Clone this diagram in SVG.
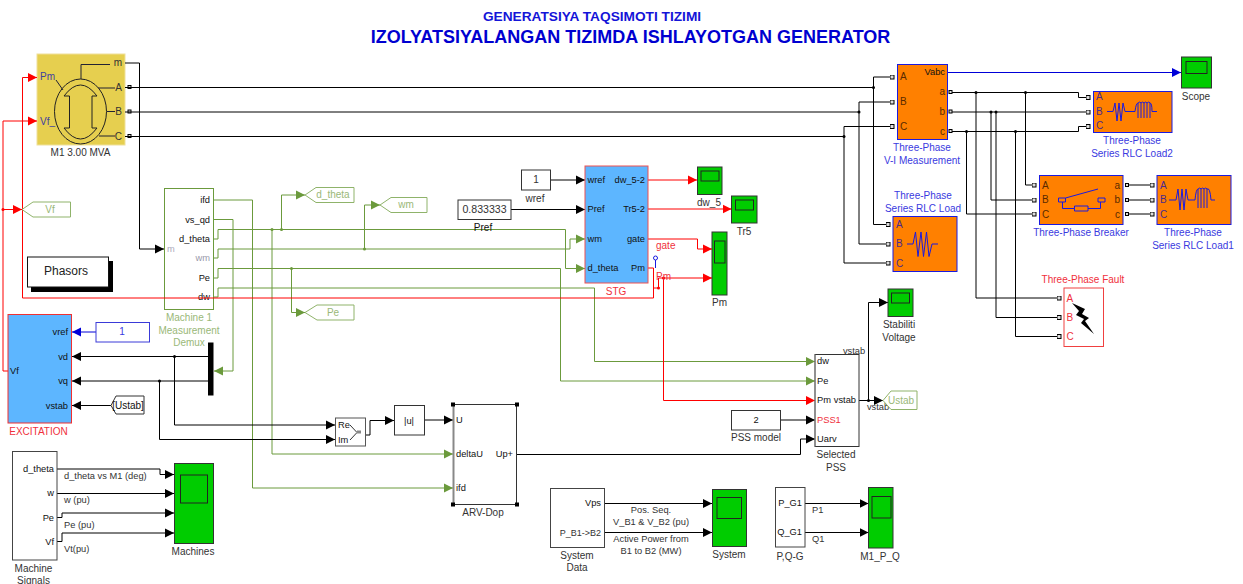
<svg xmlns="http://www.w3.org/2000/svg" width="1243" height="584" viewBox="0 0 1243 584">
<style>
text{font-family:"Liberation Sans",Arial,sans-serif;font-size:10px;fill:#333;}
.m{text-anchor:middle}.e{text-anchor:end}
.k{fill:#111;font-size:9.3px}.l{font-size:9.3px}.b{fill:#3a3ae0}.r{fill:#f0303c}.g{fill:#9ab878}
.w{fill:none;stroke-width:1}
.wk{stroke:#000;marker-end:url(#ak)}
.wg{stroke:#6b9a3c;marker-end:url(#ag)}
.wr{stroke:#f00;marker-end:url(#ar)}
.wb{stroke:#0000d8;marker-end:url(#ab)}
.wt{stroke:#000;marker-end:url(#t)}
.sc{fill:#00cc00;stroke:#333;stroke-width:1}
.in{fill:none;stroke:#222;stroke-width:1}
.or{fill:#ff8000;stroke:#1a1ae0;stroke-width:1}
.sy{fill:none;stroke:#1a1ae0;stroke-width:1}
.tg{fill:#fff;stroke:#8fb36a;stroke-width:1}
.dk{fill:#000}.dg{fill:#6b9a3c}.dr{fill:#f00}
.tm{fill:#ddd;stroke:#000}
</style>
<defs>
<marker id="ak" markerUnits="userSpaceOnUse" markerWidth="10" markerHeight="10" refX="9" refY="5" orient="auto"><path d="M0 .5L9 5L0 9.500Z" fill="#000"/></marker>
<marker id="ag" markerUnits="userSpaceOnUse" markerWidth="10" markerHeight="10" refX="9" refY="5" orient="auto"><path d="M0 .5L9 5L0 9.500Z" fill="#6b9a3c"/></marker>
<marker id="ar" markerUnits="userSpaceOnUse" markerWidth="10" markerHeight="10" refX="9" refY="5" orient="auto"><path d="M0 .5L9 5L0 9.500Z" fill="#f00"/></marker>
<marker id="ab" markerUnits="userSpaceOnUse" markerWidth="10" markerHeight="10" refX="9" refY="5" orient="auto"><path d="M0 .5L9 5L0 9.500Z" fill="#0000d8"/></marker>
<marker id="t" markerUnits="userSpaceOnUse" markerWidth="5" markerHeight="5" refX="2.500" refY="2.500"><rect x=".5" y=".5" width="4" height="4" fill="#ddd" stroke="#000"/></marker>
</defs>
<rect width="1243" height="584" fill="#fff"/>
<g id="title">
<text class="m" x="592" y="20.500" style="font-size:13.700px;font-weight:bold;fill:#1414d8">GENERATSIYA TAQSIMOTI TIZIMI</text>
<text class="m" x="630.500" y="43" style="font-size:18px;font-weight:bold;fill:#0000d0">IZOLYATSIYALANGAN TIZIMDA ISHLAYOTGAN GENERATOR</text>
</g>
<g id="M1">
<rect x="37" y="54" width="88" height="91" fill="#e6cf4f" stroke="#efe09a"/>
<ellipse cx="80.500" cy="111.500" rx="26" ry="32.500" fill="none" stroke="#222"/>
<path d="M81 79V64.500H110M56 80L63 90M98 88H115M107 111.500H115M99 136H115" fill="none" stroke="#223"/>
<path d="M64 96Q80.500 74 97 96H92V128H97Q80.500 150 64 128H69.500V96Z" fill="none" stroke="#222"/>
<text x="40" y="80" style="fill:#4040a0">Pm</text><text x="40" y="125" style="fill:#4040a0">Vf_</text>
<text class="e" x="122" y="66">m</text><text class="e" x="122" y="91">A</text><text class="e" x="122" y="115">B</text><text class="e" x="122" y="140">C</text>
<text class="m" x="80.500" y="156">M1 3.00 MVA</text>
<rect class="tm" x="128" y="85.500" width="3" height="3"/><rect class="tm" x="128" y="110" width="3" height="3"/><rect class="tm" x="128" y="134.500" width="3" height="3"/>
</g>
<g id="Demux">
<rect x="164.500" y="188.500" width="49" height="121" fill="none" stroke="#6b9a3c"/>
<text x="167" y="252" class="l" style="fill:#aab">m</text>
<text class="e k" x="210" y="203">ifd</text><text class="e k" x="210" y="223">vs_qd</text><text class="e k" x="210" y="242">d_theta</text><text class="e l" x="210" y="261" style="fill:#99a">wm</text><text class="e k" x="210" y="281">Pe</text><text class="e k" x="210" y="300">dw</text>
<text class="m g" x="189" y="321">Machine 1</text><text class="m g" x="189" y="334">Measurement</text><text class="m g" x="189" y="346">Demux</text>
</g>
<g id="connectors" class="w">
<path class="w wk" d="M125 63H139.500V249H164"/>
<path class="w wt" d="M125 87.500H873.500V77H892"/>
<path class="w wt" d="M873.500 87.500V224.500H888"/>
<path class="w wt" d="M125 112H859V102H892"/>
<path class="w wt" d="M859 112V244H888"/>
<path class="w wt" d="M125 136.500H844V126.500H892"/>
<path class="w wt" d="M844 136.500V263H888"/>
<path class="w wb" d="M947.500 72.500H1181"/>
<path class="w wt" d="M951 92.500H1078.500V97.500H1088"/>
<path class="w wt" d="M951 112H1088"/>
<path class="w wt" d="M951 131.500H1078.500V126.500H1088"/>
<path class="w wt" d="M1025.500 92.500V185H1034"/>
<path class="w wt" d="M991 112V200H1034"/>
<path class="w wt" d="M966.500 131.500V214H1034"/>
<path class="w wt" d="M976 92.500V298H1059"/>
<path class="w wt" d="M996 112V317.500H1059"/>
<path class="w wt" d="M1015.500 131.500V336.500H1059"/>
<path class="w wt" d="M1127 185H1152"/><path class="w wt" d="M1127 200H1152"/><path class="w wt" d="M1127 214H1152"/>
<path class="w wg" d="M213 200H252.500V488H453"/>
<path class="w wg" d="M213 219.500H233V371H214"/>
<path class="w wg" d="M213 239H218V229.500H565.500V268.500H585"/>
<path class="w wg" d="M272 229.500V454H453"/>
<path class="w wg" d="M281.500 229.500V195H305"/>
<path class="w wg" d="M213 258H218V249H570V239H585"/>
<path class="w wg" d="M364.500 249V205H380"/>
<path class="w wg" d="M213 278H218V268.500H560.500V381H815"/>
<path class="w wg" d="M291.500 268.500V312.500H305"/>
<path class="w wg" d="M213 297H218V288H594.500V361.500H815"/>
<path class="w wr" d="M648 268H653.500V298H22.500V77.500H37"/>
<path class="w wr" d="M3 209.500H22"/>
<path class="w wr" d="M8 371H3V121H37"/>
<path class="w wr" d="M653.500 288H658.500V278H712"/>
<path class="w wr" d="M663.500 278V400.500H815"/>
<path class="w wr" d="M648 180H697"/><path class="w wr" d="M648 209H731.500"/>
<path class="w wr" d="M648 239H697.500V249H712"/>
<path class="w wb" d="M149.500 332H72"/>
<path class="w wk" d="M208 356.500H72"/><path class="w wk" d="M208 381H72"/>
<path class="w wk" d="M111 405.500H72"/>
<path class="w wk" d="M174.500 356.500V425H335"/>
<path class="w wk" d="M159.500 381V439.500H335"/>
<path class="w wk" d="M365 435H370V420.500H394"/>
<path class="w wk" d="M424 420H453"/>
<path class="w wk" d="M516.500 454.500H800.500V439H815"/>
<path class="w wk" d="M780.500 420H815"/>
<path class="w wk" d="M859 400.500H883"/>
<path class="w wk" d="M868.500 400.500V302.500H888"/>
<path class="w wk" d="M551 180H585"/><path class="w wk" d="M511 209.500H585"/>
<path class="w wk" d="M57 469H160V474.500H174"/>
<path class="w wk" d="M57 493.500H174"/>
<path class="w wk" d="M57 517.500H62V513H174"/>
<path class="w wk" d="M57 541.500H62V533H174"/>
<path class="w wk" d="M605 503.500H712"/><path class="w wk" d="M605 532.500H712"/>
<path class="w wk" d="M805 503.500H868.500"/><path class="w wk" d="M805 532.500H868.500"/>
<g class="dk"><circle cx="873.500" cy="87.500" r="1.500"/><circle cx="859" cy="112" r="1.500"/><circle cx="844" cy="136.500" r="1.500"/><circle cx="976" cy="92.500" r="1.500"/><circle cx="1025.500" cy="92.500" r="1.500"/><circle cx="991" cy="112" r="1.500"/><circle cx="996" cy="112" r="1.500"/><circle cx="966.500" cy="131.500" r="1.500"/><circle cx="1015.500" cy="131.500" r="1.500"/><circle cx="174.500" cy="356.500" r="1.500"/><circle cx="159.500" cy="381" r="1.500"/><circle cx="868.500" cy="400.500" r="1.500"/></g>
<g class="dg"><circle cx="272" cy="229.500" r="1.500"/><circle cx="281.500" cy="229.500" r="1.500"/><circle cx="364.500" cy="249" r="1.500"/><circle cx="291.500" cy="268.500" r="1.500"/></g>
<g class="dr"><circle cx="3" cy="209.500" r="1.500"/><circle cx="658.500" cy="288" r="1.500"/><circle cx="663.500" cy="278" r="1.500"/></g>
<path d="M655.500 268V260" fill="none" stroke="#1a1ae0"/><circle cx="655.500" cy="258" r="2" fill="#fff" stroke="#1a1ae0"/>
<text class="r" x="656" y="249">gate</text><text class="r" x="656" y="280">Pm</text>
<text class="l" x="64" y="479">d_theta vs M1 (deg)</text><text class="l" x="64" y="503">w (pu)</text><text class="l" x="64" y="528">Pe (pu)</text><text class="l" x="64" y="552">Vt(pu)</text>
<text class="m l" x="651" y="513">Pos. Seq.</text><text class="m l" x="651" y="525">V_B1 &amp; V_B2 (pu)</text><text class="m l" x="651" y="542">Active Power from</text><text class="m l" x="651" y="554">B1 to B2 (MW)</text>
<text class="l" x="812" y="513">P1</text><text class="l" x="812" y="542">Q1</text>
<text class="m l" x="854" y="354">vstab</text><text class="m l" x="878" y="410">vstab</text>
</g>
<g id="gotoVf"><path class="tg" d="M22 209.500L33 202H70.500V217H33Z"/><text class="m g" x="50" y="213">Vf</text></g>
<g id="gotoTheta"><path class="tg" d="M305 195L316 187.500H354V202.500H316Z"/><text class="m g" x="333" y="198">d_theta</text></g>
<g id="gotoWm"><path class="tg" d="M380 205L391 197.500H427V212.500H391Z"/><text class="m g" x="406" y="208">wm</text></g>
<g id="gotoPe"><path class="tg" d="M305 312.500L317 305H354V320H317Z"/><text class="m g" x="333" y="316">Pe</text></g>
<g id="Phasors"><rect x="31" y="261" width="82" height="31" fill="#000"/><rect x="27.500" y="257" width="81" height="30" fill="#fff" stroke="#111"/><text class="m" x="66" y="275" style="font-size:12px;fill:#222">Phasors</text></g>
<g id="Excitation"><rect x="8" y="314.500" width="63.500" height="108.500" fill="#5db6ff" stroke="#f03030"/>
<text x="10" y="374" class="k">Vf</text><text class="e k" x="68" y="335">vref</text><text class="e k" x="68" y="360">vd</text><text class="e k" x="68" y="384">vq</text><text class="e k" x="68" y="409">vstab</text>
<text class="m r" x="38.500" y="435">EXCITATION</text></g>
<g id="ConstVref"><rect x="96" y="322.500" width="53.500" height="19.500" fill="#fff" stroke="#3a3ad8"/><text class="m b" x="122" y="335">1</text></g>
<g id="Mux"><rect x="208" y="342.500" width="5.500" height="53" fill="#000"/></g>
<g id="FromUstab"><path d="M111 405.500L116 396H144V414H116Z" fill="#fff" stroke="#333"/><text class="m" x="128" y="408.500" style="fill:#111">[Ustab]</text></g>
<g id="ReIm"><rect x="335.500" y="418" width="30" height="28" fill="#fff" stroke="#555"/><text x="338" y="428" class="k">Re</text><text x="338" y="443" class="k">Im</text><path d="M350 425L357 432.500L350 440" fill="none" stroke="#333"/><path d="M357 432H361" stroke="#888" stroke-width="3"/></g>
<g id="Abs"><rect x="394.500" y="405.500" width="30" height="29.500" fill="#fff" stroke="#333"/><text class="m k" x="409" y="424">|u|</text></g>
<g id="ARV"><rect x="453.500" y="404.500" width="63" height="100" fill="#fff" stroke="#333"/><path d="M453.500 404.500V504.500" stroke="#888" stroke-width="2"/>
<g class="dk"><rect x="451" y="402.500" width="4" height="4"/><rect x="515" y="402.500" width="4" height="4"/><rect x="451" y="502.500" width="4" height="4"/><rect x="515" y="502.500" width="4" height="4"/></g>
<text x="456" y="423" class="k">U</text><text x="456" y="457" class="k">deltaU</text><text x="456" y="491" class="k">ifd</text><text class="e k" x="513" y="457">Up+</text><text class="m" x="483" y="516">ARV-Dop</text></g>
<g id="STG"><rect x="585" y="166" width="63" height="117" fill="#5db6ff" stroke="#f05050"/>
<text x="587.500" y="183" class="k">wref</text><text x="587.500" y="212" class="k">Pref</text><text x="587.500" y="242" class="k">wm</text><text x="587.500" y="271" class="k">d_theta</text>
<text class="e k" x="645" y="183">dw_5-2</text><text class="e k" x="645" y="212">Tr5-2</text><text class="e k" x="645" y="242">gate</text><text class="e k" x="645" y="271">Pm</text>
<text class="m r" x="616" y="295">STG</text></g>
<g id="Wref"><rect x="521.500" y="170" width="29" height="20" fill="#fff" stroke="#333"/><text class="m" x="536" y="183">1</text><text class="m" x="535" y="202">wref</text></g>
<g id="Pref"><rect x="458" y="200" width="53" height="19.500" fill="#fff" stroke="#333"/><text class="m" x="484.500" y="213" style="font-size:10.600px">0.833333</text><text class="m" x="483" y="231" style="fill:#111">Pref</text></g>
<g id="ScopeDw5"><rect class="sc" x="697.500" y="167" width="24.500" height="27.500"/><rect class="in" x="701" y="171" width="18" height="10"/><text class="m" x="709" y="206">dw_5</text></g>
<g id="ScopeTr5"><rect class="sc" x="731.500" y="196" width="25.500" height="27"/><rect class="in" x="735.500" y="200" width="18" height="10"/><text class="m" x="744" y="235">Tr5</text></g>
<g id="ScopePm"><rect class="sc" x="712" y="232" width="15" height="63"/><rect class="in" x="714.500" y="241" width="10.500" height="22"/><text class="m" x="719.500" y="306">Pm</text></g>
<g id="PSS"><rect x="815" y="354.500" width="44" height="92" fill="#fff" stroke="#333"/><path d="M815 354.500V446.500" stroke="#888"/>
<text x="817" y="364" class="k">dw</text><text x="817" y="384" class="k">Pe</text><text x="817" y="403" class="k">Pm</text><text x="817" y="423" class="r l">PSS1</text><text x="817" y="442" class="k">Uarv</text><text class="e k" x="856" y="403">vstab</text>
<text class="m" x="836" y="458">Selected</text><text class="m" x="836" y="471">PSS</text></g>
<g id="ConstPss"><rect x="731.500" y="410.500" width="49" height="19.500" fill="#fff" stroke="#333"/><text class="m k" x="756" y="423">2</text><text class="m" x="756" y="441">PSS model</text></g>
<g id="ScopeStab"><rect class="sc" x="888" y="289" width="25" height="27.500"/><rect class="in" x="891.500" y="293" width="18" height="10"/><text class="m" x="899" y="328">Stabiliti</text><text class="m" x="899" y="341">Voltage</text></g>
<g id="GotoUstab"><path class="tg" d="M883 400.500L891 391H917V409.500H891Z"/><text class="m g" x="901" y="403.500">Ustab</text></g>
<g id="MachineSignals"><rect x="12.500" y="451.500" width="44.500" height="108.500" fill="#fff" stroke="#444"/><text class="e k" x="54" y="472">d_theta</text><text class="e k" x="54" y="496">w</text><text class="e k" x="54" y="521">Pe</text><text class="e k" x="54" y="545">Vf</text><text class="m" x="33.500" y="572">Machine</text><text class="m" x="33.500" y="584">Signals</text></g>
<g id="ScopeMachines"><rect class="sc" x="174.500" y="463.500" width="39" height="80"/><rect class="in" x="180.500" y="475" width="27" height="28"/><text class="m" x="193" y="555">Machines</text></g>
<g id="SystemData"><rect x="550.500" y="488.500" width="54" height="59" fill="#fff" stroke="#444"/><text class="e k" x="601" y="506">Vps</text><text class="e" x="601" y="536" style="font-size:9px">P_B1-&gt;B2</text><text class="m" x="577" y="559">System</text><text class="m" x="577" y="571">Data</text></g>
<g id="ScopeSystem"><rect class="sc" x="712.500" y="489.500" width="34" height="57"/><rect class="in" x="717" y="497.500" width="24.500" height="21"/><text class="m" x="729" y="558">System</text></g>
<g id="PQG"><rect x="775.500" y="487.500" width="29.500" height="59.500" fill="#fff" stroke="#444"/><text class="e k" x="802" y="506">P_G1</text><text class="e k" x="802" y="535">Q_G1</text><text class="m" x="790" y="560">P,Q-G</text></g>
<g id="ScopeM1PQ"><rect class="sc" x="868.500" y="487.500" width="24.500" height="60.500"/><rect class="in" x="872" y="496.500" width="19" height="21.500"/><text class="m" x="880" y="560">M1_P_Q</text></g>
<g id="VI"><rect class="or" x="897.500" y="64.500" width="50" height="75"/><text x="900" y="80" style="fill:#5a2a00">A</text><text x="900" y="105" style="fill:#5a2a00">B</text><text x="900" y="130" style="fill:#5a2a00">C</text><text class="e k" x="945" y="75">Vabc</text><text class="e" x="945" y="95" style="fill:#5a2a00">a</text><text class="e" x="945" y="115" style="fill:#5a2a00">b</text><text class="e" x="945" y="135" style="fill:#5a2a00">c</text><text class="m b" x="922" y="151">Three-Phase</text><text class="m b" x="922" y="164">V-I Measurement</text>
<rect class="tm" x="949" y="90.500" width="3" height="3"/><rect class="tm" x="949" y="110" width="3" height="3"/><rect class="tm" x="949" y="129.500" width="3" height="3"/></g>
<g id="ScopeMain"><rect class="sc" x="1181.500" y="57" width="30" height="31"/><rect class="in" x="1186" y="61.500" width="21" height="12"/><text class="m" x="1196" y="100">Scope</text></g>
<g id="Load2"><rect class="or" x="1093.500" y="91.500" width="78.500" height="41"/><text x="1096" y="100" style="fill:#4a2a90">A</text><text x="1096" y="115" style="fill:#4a2a90">B</text><text x="1096" y="129" style="fill:#4a2a90">C</text>
<path class="sy" d="M1107 111.500H1113L1115 103L1117 121L1119 103L1121 121L1123 103L1125 111.500H1135Q1136 103 1138 103V118M1138 103Q1140 101 1141 103V118M1141 103Q1143 101 1144 103V118M1144 103Q1146 101 1147 103V118M1147 103Q1149 101 1150 103V118M1150 103Q1152 103 1152 111.500H1157"/>
<text class="m b" x="1132" y="144">Three-Phase</text><text class="m b" x="1132" y="157">Series RLC Load2</text></g>
<g id="Load"><rect class="or" x="893" y="216.500" width="64" height="55"/><text x="896" y="227.500" style="fill:#4a2a90">A</text><text x="896" y="247" style="fill:#4a2a90">B</text><text x="896" y="266.500" style="fill:#4a2a90">C</text>
<path class="sy" d="M907 244H913L915.500 232L918 256.500L921 232L923.500 256.500L926.500 232L929 256.500L932 244H938"/>
<text class="m b" x="923" y="199">Three-Phase</text><text class="m b" x="923" y="212">Series RLC Load</text></g>
<g id="Breaker"><rect class="or" x="1039.500" y="175.500" width="83.500" height="49"/><text x="1042" y="188.500" style="fill:#5a2a00">A</text><text x="1042" y="203" style="fill:#5a2a00">B</text><text x="1042" y="217.500" style="fill:#5a2a00">C</text><text class="e" x="1120" y="188.500" style="fill:#5a2a00">a</text><text class="e" x="1120" y="203" style="fill:#5a2a00">b</text><text class="e" x="1120" y="217.500" style="fill:#5a2a00">c</text>
<path class="sy" d="M1058.500 198h7v4h-7zM1098 198h7v4h-7zM1062.500 202V208.500H1074.500v-2.500h13.500v5h-13.500v-2.500M1088 208.500H1100.500V202M1065.500 198L1098 189"/>
<text class="m b" x="1081" y="236">Three-Phase Breaker</text>
<rect class="tm" x="1125.500" y="183.500" width="3" height="3"/><rect class="tm" x="1125.500" y="198.500" width="3" height="3"/><rect class="tm" x="1125.500" y="212.500" width="3" height="3"/></g>
<g id="Load1"><rect class="or" x="1157" y="175.500" width="74" height="49"/><text x="1160" y="188.500" style="fill:#4a2a90">A</text><text x="1160" y="203" style="fill:#4a2a90">B</text><text x="1160" y="217.500" style="fill:#4a2a90">C</text>
<path class="sy" d="M1169 200H1176L1178 189L1180 210L1182 189L1184 210L1186 189L1188 200H1195Q1196 189 1198 189V208M1198 189Q1200 187 1201 189V208M1201 189Q1203 187 1204 189V208M1204 189Q1206 187 1207 189V208M1207 189Q1210 187 1211 200H1215"/>
<text class="m b" x="1193" y="236">Three-Phase</text><text class="m b" x="1193" y="249">Series RLC Load1</text></g>
<g id="Fault"><rect x="1064" y="288" width="39.500" height="58.500" fill="#fff" stroke="#f04040"/><text x="1066.500" y="301.500" class="r">A</text><text x="1066.500" y="321" class="r">B</text><text x="1066.500" y="340" class="r">C</text>
<path d="M1072 303L1085 309L1082 314L1089 318L1085 321L1094 334L1081 323L1084 319L1076 315L1079 311Z" fill="#000"/>
<text class="m r" x="1083" y="283">Three-Phase Fault</text></g>
</svg>
